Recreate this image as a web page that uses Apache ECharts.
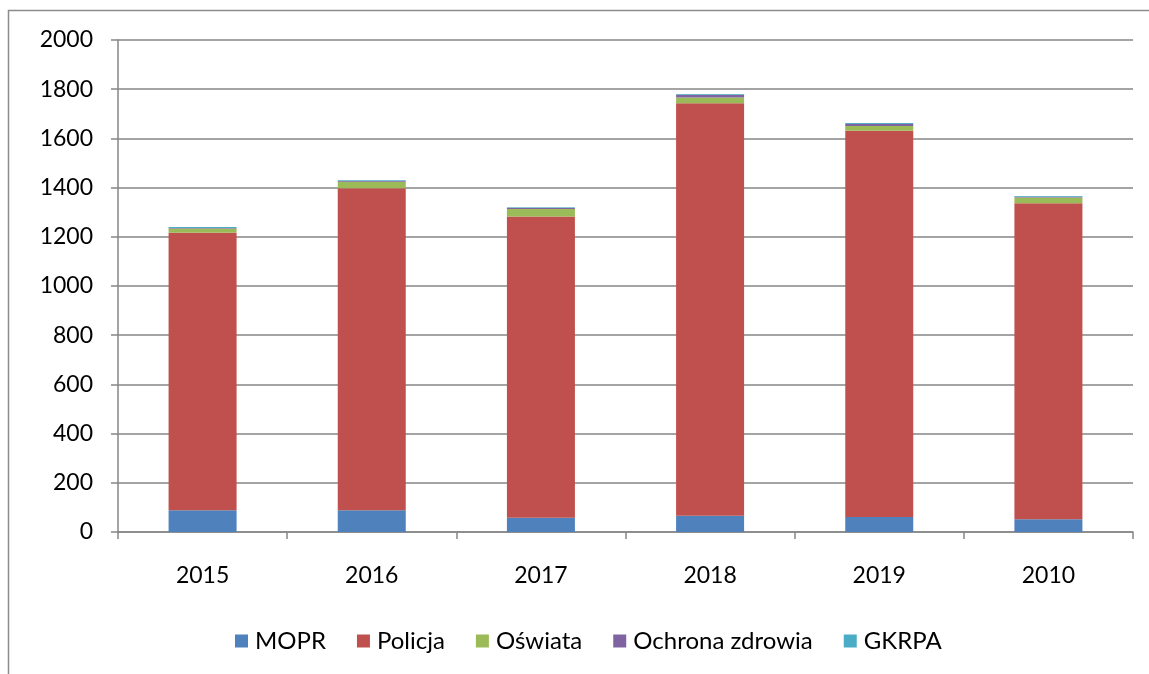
<!DOCTYPE html>
<html><head><meta charset="utf-8">
<script src="https://cdn.jsdelivr.net/npm/echarts@6/dist/echarts.min.js"></script>
<style>html,body{margin:0;padding:0;background:#fff}#c{width:1149px;height:674px}</style>
</head><body><div id="c"></div>
<script>
const categories = ['2015','2016','2017','2018','2019','2010'];
const seriesNames = ['MOPR','Policja','Oświata','Ochrona zdrowia','GKRPA'];
const mopr    = [88, 88, 58, 66, 61, 52];
const policja = [1128, 1309, 1225, 1677, 1570, 1284];
const oswiata = [18, 27, 30, 23, 19, 24];
const ochrona = [2, 3, 5, 11, 9, 3];
const gkrpa   = [4, 3, 2, 3, 4, 3];
const yTicks  = [0, 200, 400, 600, 800, 1000, 1200, 1400, 1600, 1800, 2000];
const colors = ['#4F81BD','#C0504D','#9BBB59','#8064A2','#4BACC6'];
const values = [mopr, policja, oswiata, ochrona, gkrpa];

const chart = echarts.init(document.getElementById('c'));
const font = 'Lato, "Open Sans", sans-serif';
chart.setOption({
  animation: false,
  color: colors,
  textStyle: {fontFamily: font},
  graphic: [{type:'rect', shape:{x:8.5, y:10.5, width:1200, height:700}, style:{fill:'none', stroke:'#8c8c8c', lineWidth:1.5}, silent:true}],
  grid: {left:118, right:16, top:40, bottom:142, containLabel:false},
  legend: {
    bottom: 16, left: 230, itemWidth: 13, itemHeight: 13, itemGap: 31,
    icon: 'rect', textStyle: {fontSize: 24, color: '#000', fontFamily: font, padding:[0,0,0,2]},
    data: seriesNames
  },
  xAxis: {
    type: 'category', data: categories,
    axisLine: {lineStyle: {color: '#868686', width: 1.5}},
    axisTick: {show: true, length: 7, lineStyle: {color: '#868686', width: 1.5}},
    axisLabel: {fontSize: 23, color: '#000', margin: 32, fontFamily: font}
  },
  yAxis: {
    type: 'value', min: 0, max: 2000, interval: 200,
    axisLine: {show: true, lineStyle: {color: '#868686', width: 1.5}},
    axisTick: {show: true, length: 7, lineStyle: {color: '#868686', width: 1.5}},
    splitLine: {lineStyle: {color: '#868686', width: 1.5}},
    axisLabel: {fontSize: 23, color: '#000', margin: 25, fontFamily: font,
      formatter: v => yTicks.includes(v) ? String(v) : ''}
  },
  series: seriesNames.map((n, i) => ({
    name: n, type: 'bar', stack: 'total', barWidth: 68,
    data: values[i], itemStyle: {color: colors[i]}
  }))
});
</script></body></html>
